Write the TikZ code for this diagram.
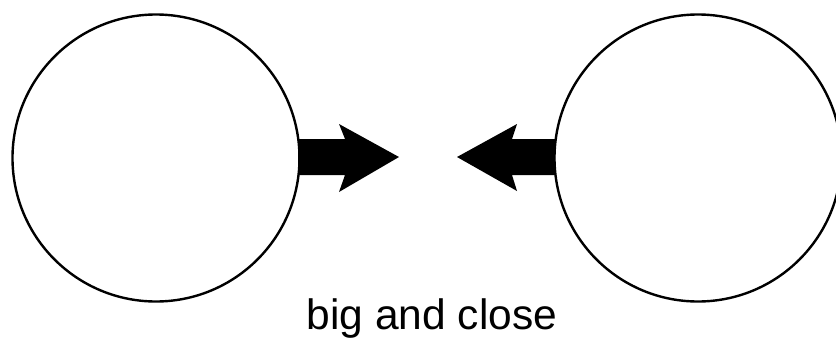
\documentclass[tikz,border=0pt]{standalone}
\usepackage{fontspec}
\setmainfont{Liberation Sans}
\begin{document}
\begin{tikzpicture}[x=1pt,y=-1pt,
  ball/.style={circle,draw=black,line width=2.4pt,minimum size=287pt,inner sep=0pt},
  blockarrow/.style={fill=black,draw=none}]
\clip (0,0) rectangle (836,341);
\fill[white] (0,0) rectangle (836,341);
\node[ball] (L) at (156,158) {};
\node[ball] (R) at (698,158) {};
\fill[blockarrow] (298,139) -- (345,139) -- (339,124) -- (399,157) -- (339,192) -- (345,175) -- (298,175) -- cycle;
\fill[blockarrow] (555,139) -- (512,139) -- (517,124) -- (457,157) -- (517,191) -- (512,175) -- (555,175) -- cycle;
\node[anchor=base,inner sep=0pt,font=\fontsize{42.5}{50}\selectfont] (T) at (432,329) {big and close};
\end{tikzpicture}
\end{document}
